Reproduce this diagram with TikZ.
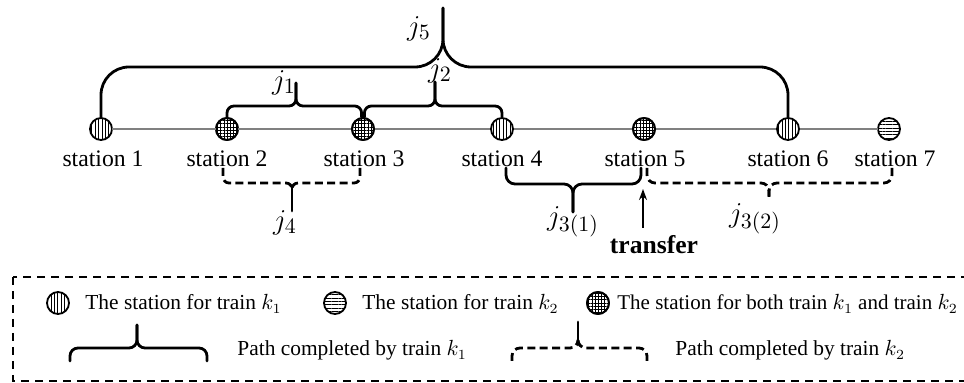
\documentclass[tikz,border=0pt]{standalone}
\usepackage{fontspec}
\setmainfont{Liberation Serif}
\usetikzlibrary{patterns.meta,arrows.meta}
\begin{document}
\begin{tikzpicture}[x=0.5pt,y=-0.5pt,
  sta/.style={circle,draw,line width=0.9pt,minimum size=11pt,inner sep=0pt},
  vst/.style={sta,pattern={Lines[angle=90,distance=1.7pt,line width=0.45pt]}},
  hst/.style={sta,pattern={Lines[angle=0,distance=1.7pt,line width=0.45pt]}},
  gst/.style={sta,pattern={Lines[angle=0,distance=1.6pt,line width=0.4pt]},
     postaction={pattern={Lines[angle=90,distance=1.6pt,line width=0.4pt]}},
     postaction={draw,line width=0.9pt}},
  lab/.style={anchor=base,inner sep=0pt,font=\fontsize{11.85}{14}\selectfont},
  jlab/.style={inner sep=0pt,font=\fontsize{15}{17}\selectfont},
  leg/.style={anchor=base west,inner sep=0pt,font=\fontsize{10.7}{13}\selectfont},
  track/.style={line width=0.7pt,gray},
  brace/.style={line width=1.4pt,line cap=round},
  dbrace/.style={line width=1.4pt,dash pattern=on 4pt off 2.2pt},
  boxline/.style={line width=0.7pt,dash pattern=on 4pt off 3pt}]
\clip (0,0) rectangle (964,383);
\fill[white] (0,0) rectangle (964,383);

% stations
\node[vst] (s1) at (101,129) {};
\node[gst] (s2) at (227,129) {};
\node[gst] (s3) at (363,129) {};
\node[vst] (s4) at (502,129) {};
\node[gst] (s5) at (644,129) {};
\node[vst] (s6) at (788,129) {};
\node[hst] (s7) at (889,129) {};
\draw[track] (s1) -- (s2);
\draw[track] (s2) -- (s3);
\draw[track] (s3) -- (s4);
\draw[track] (s4) -- (s5);
\draw[track] (s5) -- (s6);
\draw[track] (s6) -- (s7);

% labels
\node[lab] (l1) at (103,167) {station 1};
\node[lab] (l2) at (227,167) {station 2};
\node[lab] (l3) at (364,167) {station 3};
\node[lab] (l4) at (502,167) {station 4};
\node[lab] (l5) at (645,167) {station 5};
\node[lab] (l6) at (788,167) {station 6};
\node[lab] (l7) at (895,167) {station 7};

% upper braces
\coordinate (t5) at (443,8);
\draw[brace,rounded corners=14pt] (s1.north) |- (443,67) -- (t5);
\draw[brace,rounded corners=14pt] (s6.north) |- (443,67) -- (t5);
\node[jlab] (j5) at (419,29) {$j_5$};

\coordinate (t1) at (296,83);
\draw[brace,rounded corners=3.5pt] (s2.north) |- (296,106) -- (t1);
\draw[brace,rounded corners=3.5pt] ([xshift=-0.7pt]s3.north) |- (296,106) -- (t1);
\node[jlab] (j1) at (284,83) {$j_1$};

\coordinate (t2) at (435,82);
\draw[brace,rounded corners=3.5pt] ([xshift=0.7pt]s3.north) |- (435,106) -- (t2);
\draw[brace,rounded corners=3.5pt] (s4.north) |- (435,106) -- (t2);
\node[jlab] (j2) at (440,71) {$j_2$};

% lower braces
\coordinate (a4l) at (223,168);
\coordinate (a4r) at (360,168);
\coordinate (t4) at (292,211);
\draw[dbrace,rounded corners=3pt] (a4l) |- (292,183) -- (292,189);
\draw[dbrace,rounded corners=3pt] (a4r) |- (292,183) -- (292,189);
\draw[brace] (292,187) -- (t4);
\node[jlab] (j4) at (285,223) {$j_4$};

\coordinate (a31l) at (506,168);
\coordinate (a31r) at (641,168);
\coordinate (t31) at (573,212);
\draw[brace,rounded corners=4.5pt] (a31l) |- (573,184) -- (t31);
\draw[brace,rounded corners=4.5pt] (a31r) |- (573,184) -- (t31);
\node[jlab] (j31) at (573,222) {$j_{3(1)}$};

\coordinate (a32l) at (647,168);
\coordinate (a32r) at (892,168);
\coordinate (t32) at (769,197);
\draw[dbrace,rounded corners=4pt] (a32l) |- (769,183) -- (t32);
\draw[dbrace,rounded corners=4pt] (a32r) |- (769,183) -- (t32);
\node[jlab] (j32) at (755,219) {$j_{3(2)}$};

% transfer
\node[anchor=base,inner sep=0pt,font=\fontsize{12.8}{15}\selectfont\bfseries] (tr) at (654,254) {transfer};
\coordinate (ab) at (643,228);
\coordinate (at) at (643,189);
\draw[line width=0.7pt,-{Stealth[length=5.5pt,width=4pt]}] (ab) -- (at);

% legend
\draw[boxline] (13,277) rectangle (975,381);
\node[vst] (g1) at (58,303) {};
\node[leg] (g1t) at (85,310) {The station for train $k_1$};
\node[hst] (g2) at (335,303) {};
\node[leg] (g2t) at (362,310) {The station for train $k_2$};
\node[gst] (g3) at (598,303) {};
\node[leg,font=\fontsize{10.5}{13}\selectfont] (g3t) at (617,310) {The station for both train $k_1$ and train $k_2$};

\coordinate (b1l) at (70,361);
\coordinate (b1r) at (207,361);
\coordinate (b1t) at (137,325);
\draw[brace,rounded corners=4pt] (b1l) |- (137,348) -- (b1t);
\draw[brace,rounded corners=4pt] (b1r) |- (137,348) -- (b1t);
\node[leg] (b1x) at (237,356) {Path completed by train $k_1$};

\coordinate (b2l) at (512,361);
\coordinate (b2r) at (647,361);
\coordinate (b2t) at (578,322);
\draw[dbrace,rounded corners=4pt] (b2l) |- (578,348) -- (578,342);
\draw[dbrace,rounded corners=4pt] (b2r) |- (578,348) -- (578,342);
\draw[brace] (578,345) -- (b2t);
\node[leg] (b2x) at (675,356) {Path completed by train $k_2$};
\end{tikzpicture}
\end{document}
